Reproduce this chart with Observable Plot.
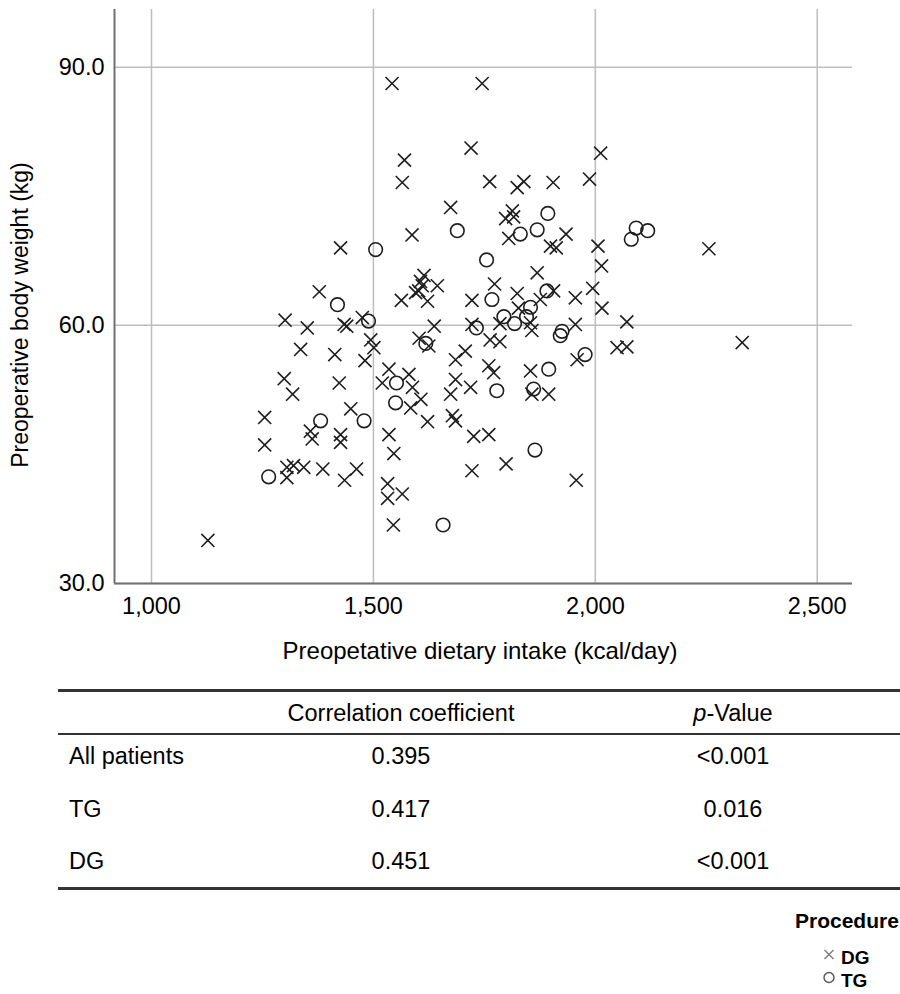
<!DOCTYPE html>
<html>
<head>
<meta charset="utf-8">
<script src="https://cdn.jsdelivr.net/npm/d3@7"></script>
<script src="https://cdn.jsdelivr.net/npm/@observablehq/plot@0.6"></script>
<style>
  body { margin: 0; background: #fff; font-family: "Liberation Sans", Arial, sans-serif; color: #000; }
  #wrap { position: relative; width: 900px; height: 994px; overflow: hidden; background: #fff; }
  #chart { position: absolute; left: 0; top: 0; }
  .t { position: absolute; white-space: nowrap; line-height: 1; }
  .c { transform: translate(-50%, -50%); }
  .l { transform: translate(0, -50%); }
  .rule { position: absolute; background: #333; }
</style>
</head>
<body>
<div id="wrap"><div id="chart"></div></div>
<script>
// ---- data ----
const dgIntake = [1542,1745,1720,1570,1565,1674,1587,1426,1378,2012,1762,1824,1839,1905,1987,1813,1798,1816,1805,1934,
  1899,1912,2006,2256,2014,1869,1773,1906,1824,1994,1955,1614,1606,1610,1602,1595,1644,1622,1563,1301,
  1351,1434,1440,1475,1637,1603,1625,1494,1501,1336,1413,1481,1685,1299,1423,1318,1535,1520,1580,1588,
  1607,1584,1622,1674,1685,1678,1255,1449,1358,1426,1535,1722,1876,2015,2071,1722,1785,1827,1857,1854,
  1955,1763,1785,1707,1760,1771,1854,1959,2049,2071,1719,1857,1895,1726,1760,1255,1362,1426,1546,1305,
  1305,1320,1343,1386,1435,1462,1532,1532,1565,1545,1127,1685,1799,1722,1957,2331];
const dgWeight = [88.1,88.1,80.6,79.2,76.6,73.7,70.5,69.0,63.9,80.0,76.7,76.0,76.7,76.6,77.0,73.3,72.4,72.6,70.1,70.6,
  69.2,69.0,69.2,68.9,66.9,66.1,64.8,64.0,63.7,64.3,63.2,65.8,65.1,64.6,64.0,63.8,64.6,62.8,62.9,60.6,
  59.7,60.1,59.9,60.9,59.9,58.5,57.6,58.3,57.4,57.2,56.6,55.9,56.0,53.8,53.3,52.0,54.9,53.3,54.3,52.8,
  51.4,50.4,48.8,52.0,53.7,49.5,49.3,50.3,47.7,47.3,47.3,62.9,63.0,62.0,60.4,60.1,60.2,62.0,59.4,60.3,
  60.1,58.3,58.1,57.0,55.3,54.5,54.7,56.0,57.4,57.5,52.8,52.0,52.0,47.1,47.3,46.1,46.8,46.4,45.1,43.5,
  42.3,43.7,43.5,43.3,42.0,43.3,41.6,39.9,40.4,36.8,35.0,48.9,43.9,43.1,42.0,58.0];
const tgIntake = [1689,1505,1893,1869,1831,2081,2092,2118,1755,1891,1767,1419,1489,1618,1552,1550,1479,1381,
  1732,1794,1818,1845,1854,1925,1921,1895,1977,1778,1861,1264,1657,1864];
const tgWeight = [71.0,68.8,73.0,71.1,70.6,70.0,71.3,71.0,67.6,64.0,63.0,62.4,60.5,57.9,53.3,51.0,48.9,48.9,
  59.7,61.0,60.2,61.0,62.1,59.3,58.8,54.9,56.6,52.4,52.6,42.4,36.8,45.5];

const xTicks = [1000, 1500, 2000, 2500];
const yTicks = [30, 60, 90];
const xDomain = [916.6, 2579.5];
const yDomain = [30, 96.7];

const xTitle = "Preopetative dietary intake (kcal/day)";
const yTitle = "Preoperative body weight (kg)";

const tableHeaders = ["Correlation coefficient", "<i>p</i>-Value"];
const tableGroups = ["All patients", "TG", "DG"];
const tableCorr = ["0.395", "0.417", "0.451"];
const tablePval = ["<0.001", "0.016", "<0.001"];

const legendTitle = "Procedure";
const legendItems = ["DG", "TG"];

// ---- build ----
const dg = dgIntake.map((v, i) => ({intake: v, weight: dgWeight[i]}));
const tg = tgIntake.map((v, i) => ({intake: v, weight: tgWeight[i]}));

const font = "Liberation Sans, Arial, sans-serif";
const chart = Plot.plot({
  width: 900,
  height: 630,
  marginLeft: 114,
  marginRight: 48,
  marginTop: 9,
  marginBottom: 47,
  style: {fontFamily: font, fontSize: "23.5px", color: "#000", background: "#fff", overflow: "visible"},
  x: {domain: xDomain, label: null},
  y: {domain: yDomain, label: null},
  marks: [
    Plot.gridX(xTicks, {stroke: "#bdbdbd", strokeOpacity: 1, strokeWidth: 1.5}),
    Plot.gridY(yTicks, {stroke: "#bdbdbd", strokeOpacity: 1, strokeWidth: 1.5}),
    Plot.axisX(xTicks, {tickSize: 0, tickPadding: 14, fontSize: 23.5, label: null, tickFormat: d3.format(",")}),
    Plot.axisY(yTicks, {tickSize: 0, tickPadding: 10, fontSize: 23.5, label: null, tickFormat: d3.format(".1f")}),
    Plot.ruleX([xDomain[0]], {stroke: "#707070", strokeWidth: 2}),
    Plot.ruleY([yDomain[0]], {stroke: "#707070", strokeWidth: 2}),
    Plot.dot(dg, {x: "intake", y: "weight", symbol: "times", r: 6, stroke: "#1e1e1e", strokeWidth: 1.6, fill: "none"}),
    Plot.dot(tg, {x: "intake", y: "weight", symbol: "circle", r: 6.8, stroke: "#1e1e1e", strokeWidth: 1.6, fill: "none"})
  ]
});
document.getElementById("chart").appendChild(chart);

const wrap = document.getElementById("wrap");
function addText(html, x, y, cls, style) {
  const d = document.createElement("div");
  d.className = "t " + cls;
  d.innerHTML = html;
  d.style.left = x + "px";
  d.style.top = y + "px";
  Object.assign(d.style, style || {});
  wrap.appendChild(d);
  return d;
}
function addRule(y, h) {
  const d = document.createElement("div");
  d.className = "rule";
  d.style.left = "58px"; d.style.width = "842px";
  d.style.top = (y - h / 2) + "px"; d.style.height = h + "px";
  wrap.appendChild(d);
}

// axis titles
addText(xTitle, 480, 651, "c", {fontSize: "24px"});
addText(yTitle, 20, 315, "", {fontSize: "23px", transform: "translate(-50%,-50%) rotate(-90deg)"});

// table
addRule(690, 3);
addRule(734, 2.5);
addRule(888, 3);
const colX = [401, 733];
const rowY = [757, 810, 862];
const fs = "23.5px";
tableHeaders.forEach((h, i) => addText(h, colX[i], 714, "c", {fontSize: fs}));
tableGroups.forEach((g, i) => {
  addText(g, 69, rowY[i], "l", {fontSize: fs});
  addText(tableCorr[i], colX[0], rowY[i], "c", {fontSize: fs});
  addText(tablePval[i].replace("<", "&lt;"), colX[1], rowY[i], "c", {fontSize: fs});
});

// legend
addText(legendTitle, 795, 920, "l", {fontSize: "21px", fontWeight: "bold"});
const legY = [957, 980];
const sym = [
  '<svg width="14" height="14" viewBox="-7 -7 14 14"><path d="M-4.5,-4.5L4.5,4.5M4.5,-4.5L-4.5,4.5" stroke="#777" stroke-width="1.3" fill="none"/></svg>',
  '<svg width="14" height="14" viewBox="-7 -7 14 14"><circle r="5" stroke="#555" stroke-width="1.4" fill="none"/></svg>'
];
legendItems.forEach((s, i) => {
  addText(sym[i], 822, legY[i] - 1, "l", {});
  addText(s, 841, legY[i], "l", {fontSize: "19px", fontWeight: "bold"});
});
</script>
</body>
</html>
